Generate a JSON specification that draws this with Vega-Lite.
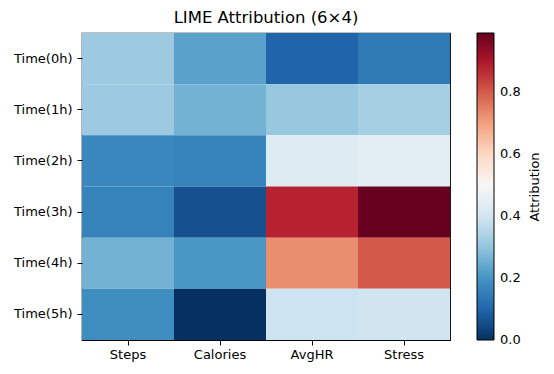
{
  "$schema": "https://vega.github.io/schema/vega-lite/v6.json",
  "width": 368,
  "height": 307,
  "autosize": {"type": "none"},
  "padding": {"left": 82, "top": 33, "right": 104, "bottom": 34},
  "background": "white",
  "title": {"text": "LIME Attribution (6×4)", "fontSize": 16.5, "fontWeight": "normal", "font": "DejaVu Sans", "color": "black", "offset": 7},
  "config": {
    "font": "DejaVu Sans",
    "view": {"stroke": "black", "strokeWidth": 1.2}
  },
  "data": {"values": [
    {"time": "Time(0h)", "feature": "Steps", "value": 0.314},
    {"time": "Time(0h)", "feature": "Calories", "value": 0.227},
    {"time": "Time(0h)", "feature": "AvgHR", "value": 0.097},
    {"time": "Time(0h)", "feature": "Stress", "value": 0.143},
    {"time": "Time(1h)", "feature": "Steps", "value": 0.314},
    {"time": "Time(1h)", "feature": "Calories", "value": 0.260},
    {"time": "Time(1h)", "feature": "AvgHR", "value": 0.307},
    {"time": "Time(1h)", "feature": "Stress", "value": 0.327},
    {"time": "Time(2h)", "feature": "Steps", "value": 0.172},
    {"time": "Time(2h)", "feature": "Calories", "value": 0.163},
    {"time": "Time(2h)", "feature": "AvgHR", "value": 0.428},
    {"time": "Time(2h)", "feature": "Stress", "value": 0.443},
    {"time": "Time(3h)", "feature": "Steps", "value": 0.160},
    {"time": "Time(3h)", "feature": "Calories", "value": 0.059},
    {"time": "Time(3h)", "feature": "AvgHR", "value": 0.877},
    {"time": "Time(3h)", "feature": "Stress", "value": 0.990},
    {"time": "Time(4h)", "feature": "Steps", "value": 0.260},
    {"time": "Time(4h)", "feature": "Calories", "value": 0.206},
    {"time": "Time(4h)", "feature": "AvgHR", "value": 0.726},
    {"time": "Time(4h)", "feature": "Stress", "value": 0.800},
    {"time": "Time(5h)", "feature": "Steps", "value": 0.186},
    {"time": "Time(5h)", "feature": "Calories", "value": 0.0},
    {"time": "Time(5h)", "feature": "AvgHR", "value": 0.390},
    {"time": "Time(5h)", "feature": "Stress", "value": 0.396}
  ]},
  "mark": {"type": "rect"},
  "encoding": {
    "x": {
      "field": "feature", "type": "nominal", "sort": null, "title": null,
      "scale": {"paddingInner": 0, "paddingOuter": 0},
      "axis": {"labelAngle": 0, "labelFontSize": 13, "labelColor": "black", "tickColor": "black", "tickSize": 5, "labelPadding": 3, "domain": false, "grid": false}
    },
    "y": {
      "field": "time", "type": "nominal", "sort": null, "title": null,
      "scale": {"paddingInner": 0, "paddingOuter": 0},
      "axis": {"labelFontSize": 13, "labelColor": "black", "tickColor": "black", "tickSize": 5, "labelPadding": 5, "domain": false, "grid": false}
    },
    "color": {
      "field": "value", "type": "quantitative",
      "scale": {
        "domain": [0, 0.099, 0.198, 0.297, 0.396, 0.495, 0.594, 0.693, 0.792, 0.891, 0.99],
        "range": ["#053061", "#2166ac", "#4393c3", "#92c5de", "#d1e5f0", "#f7f7f7", "#fddbc7", "#f4a582", "#d6604d", "#b2182b", "#67001f"],
        "interpolate": "rgb"
      },
      "legend": {
        "title": "Attribution",
        "values": [0, 0.2, 0.4, 0.6, 0.8],
        "format": ".1f",
        "gradientLength": 307,
        "gradientThickness": 17,
        "gradientStrokeColor": "black",
        "gradientStrokeWidth": 1,
        "labelFontSize": 13,
        "labelColor": "black",
        "labelOffset": 6,
        "labelOverlap": false,
        "offset": 27,
        "padding": 0,
        "titleOrient": "right",
        "titleFontSize": 13,
        "titleFontWeight": "normal",
        "titleColor": "black",
        "titleAnchor": "middle",
        "titlePadding": 8,
        "encode": {
          "labels": {"update": {"baseline": {"value": "middle"}}},
          "title": {"update": {"angle": {"value": 270}, "baseline": {"value": "top"}}}
        }
      }
    }
  }
}
